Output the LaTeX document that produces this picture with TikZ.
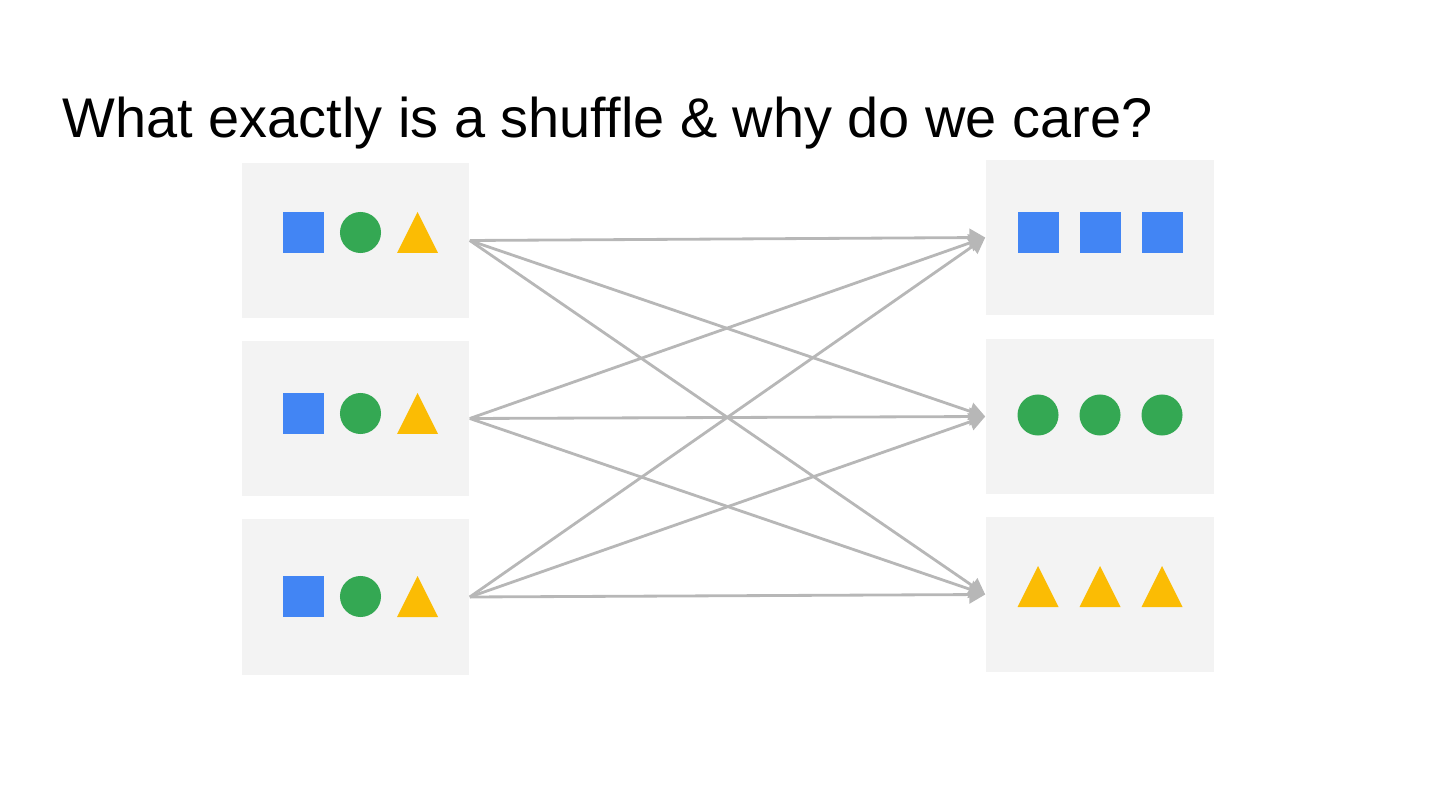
\documentclass[tikz,border=0pt]{standalone}
\usepackage{fontspec}
\setmainfont{Liberation Sans}
\usetikzlibrary{arrows.meta, positioning}

\definecolor{panel}{HTML}{F3F3F3}
\definecolor{gblue}{HTML}{4285F4}
\definecolor{ggreen}{HTML}{34A853}
\definecolor{gyellow}{HTML}{FBBC04}
\definecolor{linegray}{HTML}{B7B7B7}

\begin{document}
\begin{tikzpicture}[
    x=0.01cm, y=-0.01cm,
    box/.style={rectangle, fill=panel, minimum width=2.27cm, minimum height=1.55cm, inner sep=0pt},
    sq/.style={rectangle, fill=gblue, minimum size=0.41cm, inner sep=0pt},
    dot/.style={circle, fill=ggreen, minimum size=0.41cm, inner sep=0pt},
    tri/.style={fill=gyellow},
    arrow/.style={-{Triangle[length=4.5pt, width=5pt]}, line width=0.8pt, draw=linegray}
]
    \useasboundingbox (0,0) rectangle (1440,810);

    \node[anchor=base west, inner sep=0pt, font=\fontsize{15.9pt}{19pt}\selectfont] (title) at (62,138) {What exactly is a shuffle \& why do we care?};

    % mappers
    \node[box] (l1) at (355.5,240.5) {};
    \node[box] (l2) at (355.5,418.5) {};
    \node[box] (l3) at (355.5,597) {};

    % reducers
    \node[box, minimum width=2.28cm] (r1) at (1100,237.5) {};
    \node[box, minimum width=2.28cm] (r2) at (1100,416.5) {};
    \node[box, minimum width=2.28cm] (r3) at (1100,594.5) {};

    % mixed items on the left
    \foreach \y [count=\i] in {232.5, 413.5, 596.5} {
        \node[sq] (ls\i) at (303.5,\y) {};
        \node[dot] (lc\i) at (360.5,\y) {};
        \fill[tri] (417.5,\y) ++(-20.5,20.5) -- ++(20.5,-41) -- ++(20.5,41) -- cycle;
    }

    % grouped items on the right
    \foreach \x [count=\i] in {1038, 1100, 1162} {
        \node[sq] (rs\i) at (\x,232.5) {};
        \node[dot] (rc\i) at (\x,415) {};
        \fill[tri] (\x,586.5) ++(-20.5,20.5) -- ++(20.5,-41) -- ++(20.5,41) -- cycle;
    }

    % shuffle
    \foreach \s in {l1,l2,l3}
        \foreach \t in {r1,r2,r3}
            \draw[arrow] (\s.east) -- (\t.west);
\end{tikzpicture}
\end{document}
